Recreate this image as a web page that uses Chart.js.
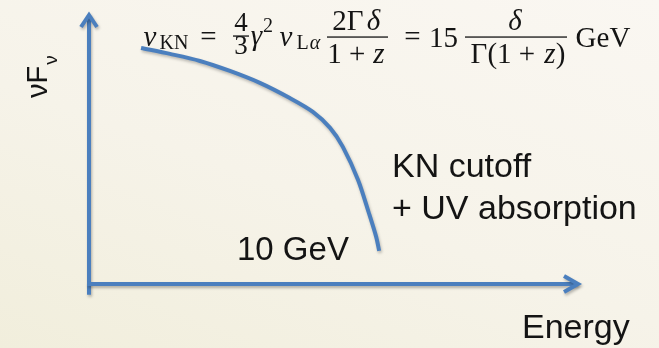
<!DOCTYPE html>
<html>
<head>
<meta charset="utf-8">
<script src="https://cdn.jsdelivr.net/npm/chart.js@4"></script>
<style>
  html, body { margin: 0; padding: 0; }
  body {
    width: 659px; height: 348px; overflow: hidden;
    background: linear-gradient(20deg, #f1eedc 0%, #f6f3e9 45%, #faf7f2 100%);
  }
  #spectrum { display: block; }
</style>
</head>
<body>
<canvas id="spectrum" width="659" height="348"></canvas>
<script>
// schematic spectrum: energy (arbitrary units) vs nuFnu
const energy = [1.06, 1.65, 2.26, 2.87, 3.48, 4.09, 4.56, 4.91, 5.17, 5.48, 5.70, 5.85, 5.91];
const flux   = [8.71, 8.49, 8.23, 7.86, 7.42, 6.86, 6.35, 5.76, 5.06, 3.84, 2.62, 1.73, 1.22];

const xRange = [0, 10];
const yRange = [0, 10];

const BLUE = '#4b7fbe';
const INK = '#141414';

// --- axes with open arrow heads ---
const arrowAxes = {
  id: 'arrowAxes',
  beforeDatasetsDraw(chart) {
    const { ctx, scales: { x, y } } = chart;
    const x0 = x.getPixelForValue(xRange[0]);
    const x1 = x.getPixelForValue(xRange[1]);
    const y0 = y.getPixelForValue(yRange[0]);
    const y1 = y.getPixelForValue(yRange[1]);
    const yBelow = y.getPixelForValue(-0.4);

    ctx.save();
    ctx.strokeStyle = BLUE;
    ctx.lineWidth = 4;
    ctx.lineCap = 'butt';
    ctx.lineJoin = 'miter';
    ctx.shadowColor = 'rgba(0,0,0,0.28)';
    ctx.shadowBlur = 3;
    ctx.shadowOffsetX = 1;
    ctx.shadowOffsetY = 2;

    // vertical axis
    ctx.beginPath();
    ctx.moveTo(x0, yBelow);
    ctx.lineTo(x0, y1 + 2);
    ctx.stroke();
    ctx.beginPath();
    ctx.moveTo(x0 - 8, y1 + 14);
    ctx.lineTo(x0, y1 + 2);
    ctx.lineTo(x0 + 8, y1 + 14);
    ctx.stroke();

    // horizontal axis
    ctx.beginPath();
    ctx.moveTo(x0 - 2, y0);
    ctx.lineTo(x1 - 2, y0);
    ctx.stroke();
    ctx.beginPath();
    ctx.moveTo(x1 - 16, y0 - 8);
    ctx.lineTo(x1 - 2, y0);
    ctx.lineTo(x1 - 16, y0 + 8);
    ctx.stroke();
    ctx.restore();
  }
};

// soft drop shadow under the curve
const curveShadow = {
  id: 'curveShadow',
  beforeDatasetDraw(chart) {
    const ctx = chart.ctx;
    ctx.save();
    ctx.shadowColor = 'rgba(0,0,0,0.25)';
    ctx.shadowBlur = 3;
    ctx.shadowOffsetX = 1;
    ctx.shadowOffsetY = 2;
  },
  afterDatasetDraw(chart) {
    chart.ctx.restore();
  }
};

// draw a token centred between left and right edges
function tok(ctx, text, font, left, right, base) {
  ctx.font = font;
  const w = ctx.measureText(text).width;
  ctx.fillText(text, (left + right) / 2 - w / 2, base);
}

function bar(ctx, left, right, yy) {
  ctx.fillRect(left, yy - 0.6, right - left, 1.3);
}

// --- formula and labels ---
const annotations = {
  id: 'annotations',
  afterDraw(chart) {
    const ctx = chart.ctx;
    ctx.save();
    ctx.fillStyle = INK;
    ctx.textBaseline = 'alphabetic';

    const serif = '"Liberation Serif", "DejaVu Serif", serif';
    const it = 'italic 29px ' + serif;
    const rm = '29px ' + serif;
    const sub = '20px ' + serif;
    const subIt = 'italic 20px ' + serif;

    // nu_KN =
    tok(ctx, 'ν', it, 140, 160, 46);
    tok(ctx, 'KN', sub, 162, 186, 49);
    tok(ctx, '=', rm, 199, 218, 46);
    // 4/3
    tok(ctx, '4', '27px ' + serif, 234, 248, 31);
    bar(ctx, 233, 249, 36);
    tok(ctx, '3', '27px ' + serif, 234, 248, 54);
    // gamma^2 nu_La
    tok(ctx, 'γ', it, 250, 263, 45);
    tok(ctx, '2', sub, 263, 273, 32);
    tok(ctx, 'ν', it, 277, 295, 46);
    tok(ctx, 'L', sub, 297, 308, 49);
    tok(ctx, 'α', subIt, 308, 322, 49);
    // 2 Gamma delta / (1+z)
    tok(ctx, '2Γ', rm, 330, 366, 30);
    tok(ctx, 'δ', it, 366, 381, 30);
    bar(ctx, 327, 388, 37);
    tok(ctx, '1 + ', rm, 327, 373, 63);
    tok(ctx, 'z', it, 372, 386, 63);
    // = 15 delta / Gamma(1+z) GeV
    tok(ctx, '=', rm, 402, 423, 46);
    tok(ctx, '15', rm, 430, 457, 47);
    tok(ctx, 'δ', it, 507, 523, 30);
    bar(ctx, 465, 567, 37);
    tok(ctx, 'Γ(1 + ', rm, 468, 545, 63);
    tok(ctx, 'z', it, 544, 556, 63);
    tok(ctx, ')', rm, 555, 566, 63);
    tok(ctx, 'GeV', rm, 575, 631, 47);

    // plain labels
    const sans = '"Liberation Sans", Arial, sans-serif';
    ctx.font = '34px ' + sans;
    ctx.fillText('KN cutoff', 392, 177);
    ctx.fillText('+ UV absorption', 392, 219);
    ctx.font = '33px ' + sans;
    ctx.fillText('10 GeV', 237, 260);
    ctx.font = '34px ' + sans;
    ctx.fillText('Energy', 522, 338);

    // rotated nuF_nu
    ctx.save();
    ctx.translate(47, 98);
    ctx.rotate(-Math.PI / 2);
    ctx.font = '29px ' + sans;
    ctx.fillText('νF', 0, 0);
    const w = ctx.measureText('νF').width;
    ctx.font = '19px ' + sans;
    ctx.fillText('ν', w + 1, 10);
    ctx.restore();

    ctx.restore();
  }
};

new Chart(document.getElementById('spectrum'), {
  type: 'line',
  data: {
    datasets: [{
      data: energy.map((e, i) => ({ x: e, y: flux[i] })),
      borderColor: BLUE,
      borderWidth: 4,
      pointRadius: 0,
      fill: false,
      tension: 0.3,
      borderCapStyle: 'butt'
    }]
  },
  options: {
    responsive: false,
    animation: false,
    devicePixelRatio: 1,
    layout: { padding: { left: 89, right: 79, top: 13, bottom: 64 } },
    scales: {
      x: { type: 'linear', min: xRange[0], max: xRange[1], display: false },
      y: { type: 'linear', min: yRange[0], max: yRange[1], display: false }
    },
    plugins: {
      legend: { display: false },
      tooltip: { enabled: false }
    }
  },
  plugins: [arrowAxes, curveShadow, annotations]
});
</script>
</body>
</html>
